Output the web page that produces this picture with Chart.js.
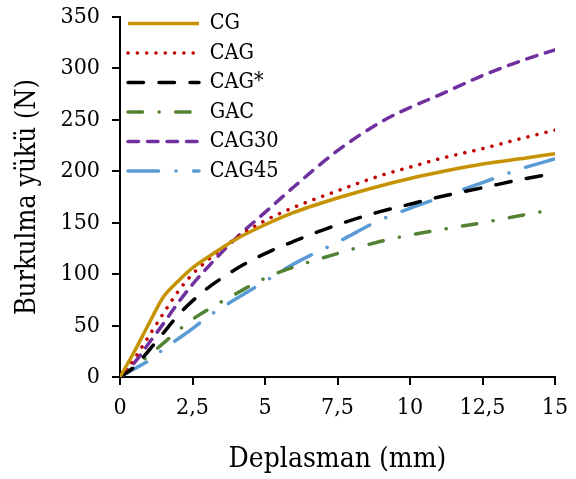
<!DOCTYPE html>
<html>
<head>
<meta charset="utf-8">
<script src="https://cdn.jsdelivr.net/npm/chart.js@4/dist/chart.umd.min.js"></script>
<style>
  html, body { margin: 0; padding: 0; background: #fff; }
</style>
</head>
<body>
<canvas id="chart" width="576" height="479"></canvas>
<script>
// displacement (mm)
const xs = [0, 0.5, 1, 1.5, 2, 2.5, 3, 4, 5, 6, 7.5, 9, 10, 11, 12.5, 14, 15];
// buckling load (N)
const cg    = [0, 25, 52, 78, 93, 106, 116, 134, 148, 160, 174, 186, 193, 199, 207, 213, 217];
const cag   = [0, 18, 40, 62, 83, 100, 113, 135, 152, 165, 181, 196, 204, 212, 222, 233, 240];
const cagS  = [0, 10, 26, 43, 60, 74, 86, 105, 120, 132, 148, 161, 168, 175, 184, 193, 198];
const gac   = [0, 10, 21, 33, 45, 56, 65, 81, 96, 107, 120, 132, 138, 143, 150, 158, 163];
const cag30 = [0, 14, 33, 52, 72, 90, 106, 135, 160, 185, 220, 248, 262, 274, 293, 309, 318];
const cag45 = [0, 8, 16, 27, 37, 47, 58, 76, 93, 110, 131, 153, 164, 174, 189, 204, 212];

const xTicks = [0, 2.5, 5, 7.5, 10, 12.5, 15];
const yTicks = [0, 50, 100, 150, 200, 250, 300, 350];

const font = '"DejaVu Serif Condensed", "DejaVu Serif", serif';

function pts(ys) {
    return xs.map((x, i) => ({x: x, y: ys[i]}));
}

function series(label, ys, color, dash, cap) {
    return {
        label: label,
        data: pts(ys),
        borderColor: color,
        backgroundColor: color,
        borderWidth: 3.5,
        borderDash: dash,
        borderCapStyle: cap || 'butt',
        pointRadius: 0,
        cubicInterpolationMode: 'monotone',
        fill: false
    };
}

const ctx = document.querySelector('#chart').getContext('2d');
const chart = new Chart(ctx, {
    type: 'line',
    data: {
        datasets: [
            series('CG', cg, '#c69300', []),
            series('CAG', cag, '#c00000', [0.1, 9.2], 'round'),
            series('CAG*', cagS, '#000000', [15.5, 15.5], 'round'),
            series('GAC', gac, '#548235', [14.5, 16.5, 0.1, 16.5], 'round'),
            series('CAG30', cag30, '#7030a0', [10.5, 9], 'round'),
            series('CAG45', cag45, '#5b9bd5', [30.5, 17.5, 0.1, 17.5], 'round')
        ]
    },
    options: {
        responsive: false,
        animation: false,
        layout: { padding: { top: 17, right: 21, left: 0, bottom: 0 } },
        plugins: {
            legend: {
                position: 'chartArea',
                align: 'start',
                title: { display: true, text: ' ', font: { size: 4 }, padding: 0 },
                labels: {
                    color: '#000',
                    font: { family: font, size: 21.5 },
                    usePointStyle: true,
                    pointStyle: 'line',
                    pointStyleWidth: 71,
                    boxHeight: 18,
                    padding: 8,
                    generateLabels: c => {
                        const items = Chart.defaults.plugins.legend.labels.generateLabels(c);
                        return items.map((it, i) => {
                            const ds = c.data.datasets[i];
                            it.lineDash = ds.borderDash;
                            it.lineCap = ds.borderCapStyle;
                            it.lineWidth = ds.borderWidth;
                            it.strokeStyle = ds.borderColor;
                            it.fillStyle = ds.borderColor;
                            return it;
                        });
                    }
                }
            },
            tooltip: { enabled: false }
        },
        scales: {
            x: {
                type: 'linear',
                min: 0,
                max: 15,
                afterBuildTicks: s => { s.ticks = xTicks.map(v => ({value: v})); },
                afterFit: s => { s.height = 102; s.paddingLeft = 0; s.paddingRight = 0; },
                grid: { drawOnChartArea: false, drawTicks: true, tickLength: 8, color: '#000', lineWidth: 2 },
                border: { color: '#000', width: 2 },
                ticks: {
                    color: '#000',
                    font: { family: font, size: 23 },
                    padding: 9,
                    maxRotation: 0,
                    callback: v => String(v).replace('.', ',')
                },
                title: {
                    display: true,
                    text: 'Deplasman (mm)',
                    color: '#000',
                    font: { family: font, size: 28 },
                    padding: { top: 0, bottom: 2 }
                }
            },
            y: {
                min: 0,
                max: 350,
                afterBuildTicks: s => { s.ticks = yTicks.map(v => ({value: v})); },
                afterFit: s => { s.width = 120; s.paddingTop = 0; s.paddingBottom = 0; },
                grid: { drawOnChartArea: false, drawTicks: true, tickLength: 8, color: '#000', lineWidth: 2 },
                border: { color: '#000', width: 2 },
                ticks: {
                    color: '#000',
                    font: { family: font, size: 23 },
                    padding: 12
                },
                title: {
                    display: true,
                    text: 'Burkulma yükü (N)',
                    color: '#000',
                    font: { family: font, size: 27 },
                    padding: { top: 11.5, bottom: 0 }
                }
            }
        }
    }
});
</script>
</body>
</html>
